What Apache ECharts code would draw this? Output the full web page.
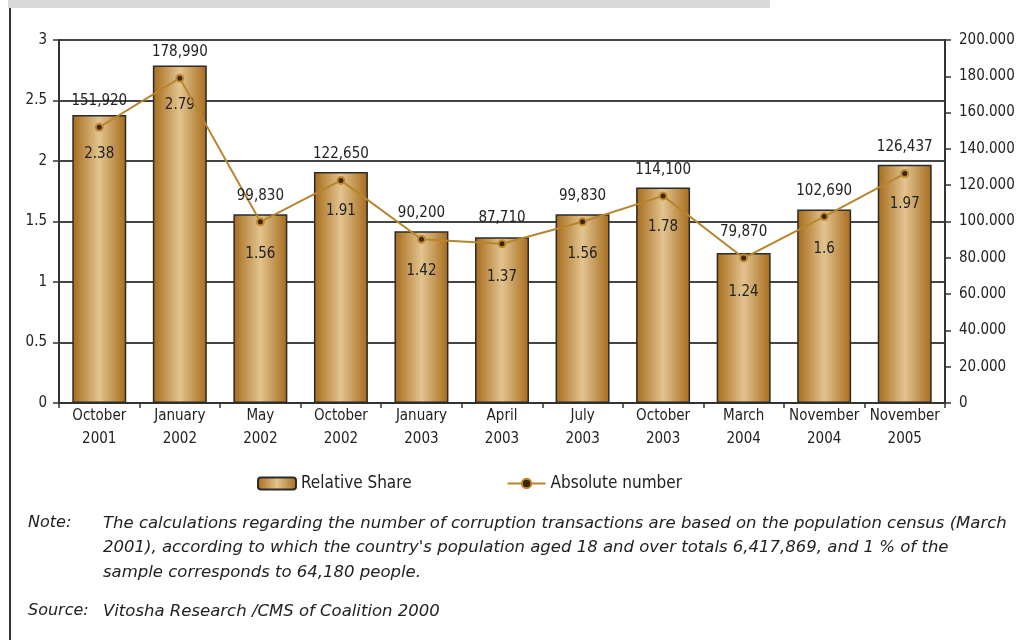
<!DOCTYPE html>
<html><head><meta charset="utf-8">
<script src="https://cdn.jsdelivr.net/npm/echarts@6/dist/echarts.min.js"></script>
<style>html,body{margin:0;padding:0;background:#fff}#c{width:1026px;height:640px}</style>
</head><body><div id="c"></div>
<script>
const categories = ["October\n2001","January\n2002","May\n2002","October\n2002","January\n2003","April\n2003","July\n2003","October\n2003","March\n2004","November\n2004","November\n2005"];
const relativeShare = [2.38, 2.79, 1.56, 1.91, 1.42, 1.37, 1.56, 1.78, 1.24, 1.6, 1.97];
const absoluteNumber = [151920, 178990, 99830, 122650, 90200, 87710, 99830, 114100, 79870, 102690, 126437];
const leftTicks = [0, 0.5, 1, 1.5, 2, 2.5, 3];
const rightTicks = [0, 20000, 40000, 60000, 80000, 100000, 120000, 140000, 160000, 180000, 200000];
const noteLines = [
  "The calculations regarding the number of corruption transactions are based on the population census (March",
  "2001), according to which the country's population aged 18 and over totals 6,417,869, and 1 % of the",
  "sample corresponds to 64,180 people."
];
const sourceText = "Vitosha Research /CMS of Coalition 2000";

const FONT = "'Liberation Sans Narrow','DejaVu Sans Condensed',sans-serif";
const NOTEFONT = "'DejaVu Sans',sans-serif";
const chart = echarts.init(document.getElementById('c'));
const barGrad = new echarts.graphic.LinearGradient(0,0,1,0,[
  {offset:0,color:'#a66b1b'},{offset:0.5,color:'#e2c48f'},{offset:1,color:'#a66b1b'}]);
function fmtDot(v){ if(v===0) return '0'; return (v/1000).toFixed(0)+'.000'; }
function fmtComma(v){ const s=String(v); return s.slice(0,s.length-3)+','+s.slice(-3); }

const graphics = [
  {type:'rect', shape:{x:8,y:0,width:762,height:8}, style:{fill:'#d9d9d9'}, silent:true},
  {type:'rect', shape:{x:9,y:8,width:2,height:632}, style:{fill:'#333'}, silent:true},
  {type:'text', left:28, top:515, style:{text:'Note:', font:'italic 16px '+NOTEFONT, fill:'#222'}},
  {type:'text', left:28, top:603, style:{text:'Source:', font:'italic 16px '+NOTEFONT, fill:'#222'}},
  {type:'text', left:103, top:603, style:{text:sourceText, font:'italic 16.5px '+NOTEFONT, fill:'#222'}}
];
noteLines.forEach((t,i)=>graphics.push({type:'text', left:103, top:515+i*24.5, style:{text:t, font:'italic 16.5px '+NOTEFONT, fill:'#222'}}));

chart.setOption({
  animation:false,
  textStyle:{fontFamily:FONT},
  grid:{left:59,right:81,top:40,bottom:237},
  legend:{left:252, top:470, itemGap:95, itemWidth:38, itemHeight:12,
    textStyle:{fontSize:17,color:'#222',fontFamily:FONT},
    data:[{name:'Relative Share'},{name:'Absolute number'}]},
  xAxis:{type:'category', data:categories, boundaryGap:true,
    axisLine:{lineStyle:{color:'#333',width:2}},
    axisTick:{show:true,length:5,lineStyle:{color:'#333',width:1.5}},
    axisLabel:{color:'#222',fontSize:15,lineHeight:23,margin:2,interval:0,fontFamily:FONT}},
  yAxis:[
    {type:'value', min:0, max:3, interval:0.5, position:'left',
      axisLine:{show:true,lineStyle:{color:'#333',width:2}},
      axisTick:{show:true,length:6,lineStyle:{color:'#333',width:1.5}},
      axisLabel:{color:'#222',fontSize:15,margin:12,fontFamily:FONT},
      splitLine:{show:true,lineStyle:{color:'#444',width:2}}},
    {type:'value', min:0, max:200000, interval:20000, position:'right',
      axisLine:{show:true,lineStyle:{color:'#333',width:2}},
      axisTick:{show:true,length:6,lineStyle:{color:'#333',width:1.5}},
      axisLabel:{color:'#222',fontSize:15,margin:14,formatter:fmtDot,fontFamily:FONT},
      splitLine:{show:false}}
  ],
  series:[
    {name:'Relative Share', type:'bar', data:relativeShare, barWidth:'67%', yAxisIndex:0,
      itemStyle:{color:barGrad, borderColor:'#2b2b2b', borderWidth:1.5},
      label:{show:true, position:'insideTop', distance:32, color:'#222', fontSize:15, fontFamily:FONT}},
    {name:'Absolute number', type:'line', data:absoluteNumber, yAxisIndex:1,
      lineStyle:{color:'#b9852c', width:2},
      symbol:'circle', symbolSize:7,
      itemStyle:{color:'#3b2600', borderColor:'#c08a30', borderWidth:2},
      label:{show:true, position:'top', distance:14, color:'#222', fontSize:15, fontFamily:FONT,
        formatter:p=>fmtComma(p.value)}, z:5}
  ],
  graphic:graphics
});
</script></body></html>
